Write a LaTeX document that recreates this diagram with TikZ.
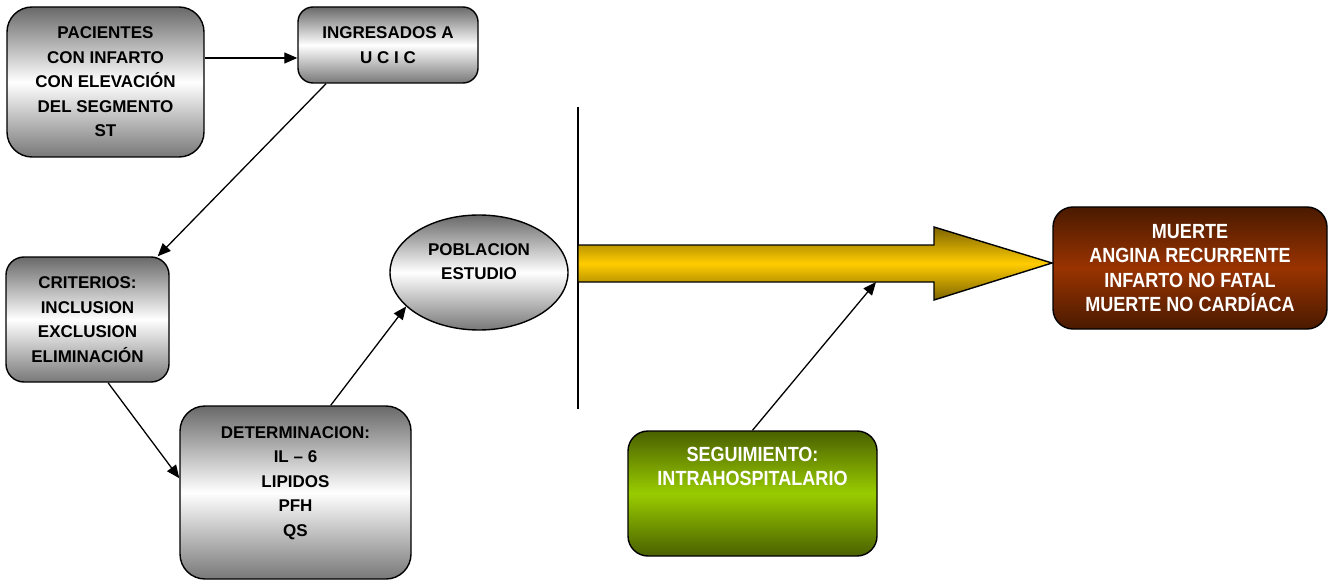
\documentclass[tikz,border=0pt]{standalone}
\usepackage{fontspec}
\setmainfont{Liberation Sans}
\newfontfamily\narrowsans{Liberation Sans}[FakeStretch=0.88]
\usepackage{xcolor}
\usepackage{tikz}
\usetikzlibrary{shapes.geometric,arrows.meta,calc}

\definecolor{darkgrey}{RGB}{105,105,105}
\definecolor{midgrey}{RGB}{120,120,120}
\definecolor{brownmid}{RGB}{153,51,0}
\definecolor{browndark}{RGB}{74,26,0}
\definecolor{greenmid}{RGB}{153,204,0}
\definecolor{greendark}{RGB}{74,96,0}
\definecolor{goldmid}{RGB}{255,204,0}
\definecolor{golddark}{RGB}{125,100,0}

% raise a block of lines, keeping its size
\newcommand{\upby}[2]{\raisebox{#1}[\height][\depth]{\begin{tabular}{@{}c@{}}#2\end{tabular}}}

\begin{document}
\begin{tikzpicture}[
    x=1pt, y=-1pt,
    bx/.style={rectangle, draw=black, line width=1.4pt, align=center, inner sep=0pt, font=\bfseries\fontsize{17}{24.5}\selectfont},
    gbox/.style={bx, top color=darkgrey, bottom color=midgrey, middle color=white},
    brbox/.style={bx, rounded corners=20pt, text=white, top color=browndark, bottom color=browndark, middle color=brownmid, font=\narrowsans\bfseries\fontsize{20.5}{24.5}\selectfont},
    grbox/.style={bx, rounded corners=20pt, text=white, top color=greendark, bottom color=greendark, middle color=greenmid, font=\narrowsans\bfseries\fontsize{20.5}{24.5}\selectfont},
    oval/.style={gbox, ellipse},
    arr/.style={-{Triangle[length=13pt,width=11pt]}, line width=1.3pt, draw=black}
]
    \useasboundingbox (0,0) rectangle (1330,580);

    \node [gbox, rounded corners=25pt, minimum width=197pt, minimum height=150pt] (n1) at (105.5,82) {PACIENTES\\CON INFARTO\\CON ELEVACIÓN\\DEL SEGMENTO\\ST};
    \node [gbox, rounded corners=15pt, minimum width=180pt, minimum height=76pt] (n2) at (388,45) {INGRESADOS A\\U C I C};
    \node [gbox, rounded corners=18pt, minimum width=163pt, minimum height=125pt] (n3) at (87.5,319.5) {CRITERIOS:\\INCLUSION\\EXCLUSION\\ELIMINACIÓN};
    \node [gbox, rounded corners=25pt, minimum width=231pt, minimum height=173pt] (n4) at (295.5,492.5) {\upby{10pt}{DETERMINACION:\\IL -- 6\\LIPIDOS\\PFH\\QS}};
    \node [oval, minimum width=178pt, minimum height=115pt] (n5) at (479,272.5) {\upby{10pt}{POBLACION\\ESTUDIO}};
    \node [brbox, minimum width=274pt, minimum height=122pt] (n6) at (1190,268) {MUERTE\\ANGINA RECURRENTE\\INFARTO NO FATAL\\MUERTE NO CARDÍACA};
    \node [grbox, minimum width=249pt, minimum height=125pt] (n7) at (752.5,493.5) {\upby{25pt}{SEGUIMIENTO:\\INTRAHOSPITALARIO}};

    % follow-up arrow
    \draw [line width=1.2pt] (578,107) -- (578,409);
    \shadedraw [line width=1.4pt, top color=golddark, bottom color=golddark, middle color=goldmid]
        (578,245) -- (934,245) -- (934,227) -- (1052,263) -- (934,300) -- (934,282) -- (578,282) -- cycle;
    \coordinate (hit) at (876,282);

    \draw [arr] ([yshift=24pt]n1.east) -- ([yshift=-13pt]n2.west);
    \draw [arr] (n2.212.3) -- (n3.42.9);
    \draw [arr] (n3.-72.7) -- (n4.173.8);
    \draw [arr] (n4.68.5) -- (n5.205);
    \draw [arr] (n7.north) -- (hit);
\end{tikzpicture}
\end{document}
